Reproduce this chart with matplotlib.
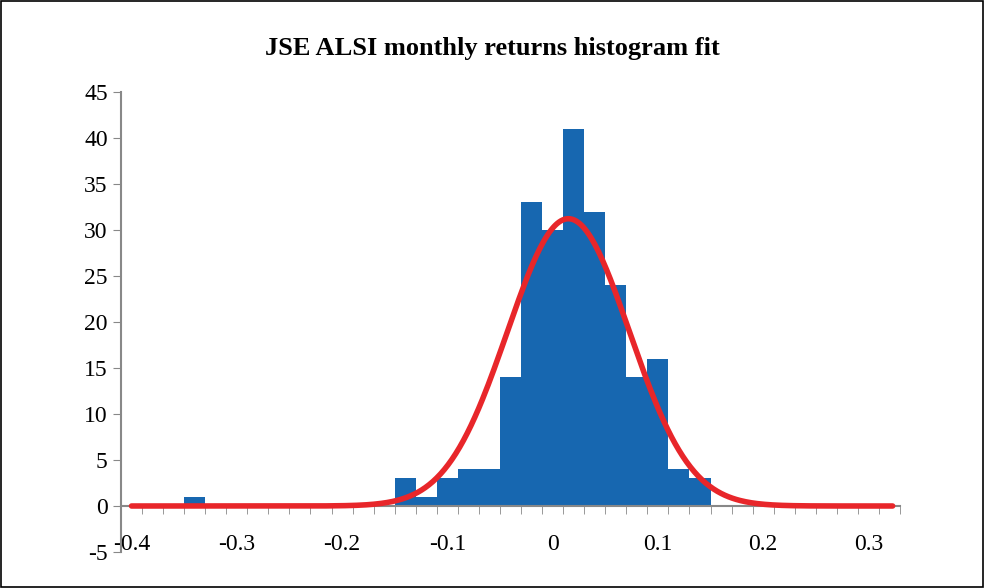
import numpy as np
import matplotlib.pyplot as plt
from matplotlib.patches import Rectangle

plt.rcParams['font.family'] = ['Liberation Serif', 'DejaVu Serif']
plt.rcParams['axes.unicode_minus'] = False

bin_left = [-0.35, -0.15, -0.13, -0.11, -0.09, -0.07, -0.05, -0.03, -0.01,
            0.01, 0.03, 0.05, 0.07, 0.09, 0.11, 0.13]
counts = [1, 3, 1, 3, 4, 4, 14, 33, 30, 41, 32, 24, 14, 16, 4, 3]
bin_width = 0.02
fit_mu = 0.015
fit_sigma = 0.058
n_obs = sum(counts)

fig = plt.figure(figsize=(9.84, 5.88), dpi=100)
fig.patches.append(Rectangle((0.001, 0.001), 0.998, 0.998, transform=fig.transFigure,
                             fill=False, edgecolor='black', lw=1.2))
ax = fig.add_axes([121/984, 36/588, 779/984, 460/588])

ax.bar(bin_left, counts, width=bin_width, align='edge', color='#1767b0', zorder=2)

xs = np.linspace(-0.40, 0.323, 400)
ys = n_obs * bin_width / (fit_sigma * np.sqrt(2*np.pi)) * np.exp(-0.5*((xs - fit_mu)/fit_sigma)**2)
ax.plot(xs, ys, color='#e8262a', lw=4, solid_capstyle='round', zorder=3)

ax.set_xlim(-0.41, 0.33)
ax.set_ylim(-5, 45)
ax.set_yticks(range(-5, 46, 5))
ax.set_xticks([-0.4, -0.3, -0.2, -0.1, 0, 0.1, 0.2, 0.3])
ax.set_xticklabels(['-0.4', '-0.3', '-0.2', '-0.1', '0', '0.1', '0.2', '0.3'])
ax.set_xticks(np.arange(-0.39, 0.335, 0.02), minor=True)
ax.tick_params(axis='x', which='major', length=0, pad=20, labelsize=17)
ax.tick_params(axis='x', which='minor', length=6, color='#888888', direction='out')
ax.tick_params(axis='y', length=6, color='#888888', labelsize=17)

for s in ['top', 'right']:
    ax.spines[s].set_visible(False)
ax.spines['bottom'].set_position(('data', 0))
ax.spines['bottom'].set_color('#888888')
ax.spines['left'].set_color('#888888')
ax.spines['bottom'].set_linewidth(1.5)
ax.spines['left'].set_linewidth(1.5)

fig.text(0.5, 1 - 48/588, 'JSE ALSI monthly returns histogram fit', ha='center',
         va='center', fontsize=19, fontweight='bold')

fig.savefig('out.png', dpi=100)
